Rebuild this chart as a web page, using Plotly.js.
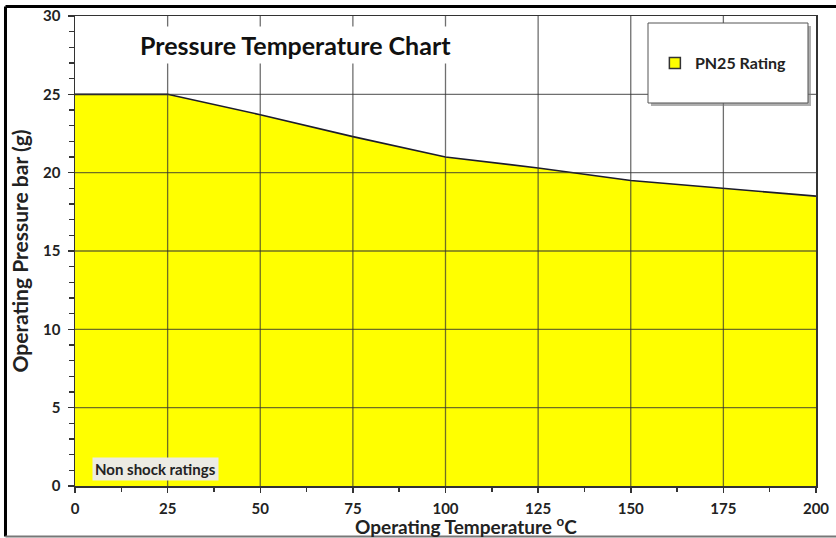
<!DOCTYPE html>
<html>
<head>
<meta charset="utf-8">
<script src="https://cdn.plot.ly/plotly-3.0.1.min.js"></script>
<style>html,body{margin:0;padding:0;background:#fff;}#chart{width:836px;height:538px;}</style>
</head>
<body>
<div id="chart"></div>
<script>
// Data
const temperature = [0, 25, 50, 75, 100, 125, 150, 175, 200];
const pressure = [25, 25, 23.7, 22.3, 21.0, 20.3, 19.5, 19.0, 18.5];
const seriesName = 'PN25 Rating';
const xTicks = [0, 25, 50, 75, 100, 125, 150, 175, 200];
const yTicks = [0, 5, 10, 15, 20, 25, 30];

const FONT = 'Lato, "Open Sans", sans-serif';
const gridColor = 'rgba(50,50,50,0.7)';

const shapes = [];
// gridlines drawn above the fill
xTicks.slice(1, -1).forEach(v => shapes.push({type:'line', xref:'x', yref:'paper', x0:v, x1:v, y0:0, y1:1, line:{color:gridColor, width:1.3}, layer:'above'}));
yTicks.slice(1, -1).forEach(v => shapes.push({type:'line', xref:'paper', yref:'y', x0:0, x1:1, y0:v, y1:v, line:{color:gridColor, width:1.3}, layer:'above'}));
// legend box with shadow
shapes.push({type:'rect', xref:'paper', yref:'paper', x0:0.7773, x1:0.9932, y0:0.8085, y1:0.9787, fillcolor:'rgba(120,120,120,0.6)', line:{width:0}, layer:'above'});
shapes.push({type:'rect', xref:'paper', yref:'paper', x0:0.7733, x1:0.9892, y0:0.8149, y1:0.9851, fillcolor:'#ffffff', line:{color:'#555', width:1}, layer:'above'});
// outer frame
shapes.push({type:'line', xref:'paper', yref:'paper', x0:-0.0938, x1:1.05, y0:1.0202, y1:1.0202, line:{color:'#000', width:3}, layer:'above'});
shapes.push({type:'line', xref:'paper', yref:'paper', x0:-0.0938, x1:-0.0938, y0:1.0202, y1:-0.1074, line:{color:'#000', width:3}, layer:'above'});
shapes.push({type:'line', xref:'paper', yref:'paper', x0:-0.0938, x1:1.05, y0:-0.1074, y1:-0.1074, line:{color:'#777', width:2}, layer:'above'});

const trace = {
  x: temperature, y: pressure, name: seriesName,
  type: 'scatter', mode: 'lines', fill: 'tozeroy',
  fillcolor: '#ffff00', line: {color: '#1c1c2c', width: 1.6},
  showlegend: false
};
// legend entry (square swatch) for the same series
const legendEntry = {
  x: [null], y: [null], name: seriesName, type: 'scatter', mode: 'markers',
  marker: {symbol: 'square', size: 11, color: '#ffff00', line: {color: '#333', width: 1.5}},
  showlegend: true
};

const layout = {
  width: 836, height: 538,
  margin: {l: 75, r: 20, t: 16, b: 52},
  paper_bgcolor: '#ffffff', plot_bgcolor: '#ffffff',
  font: {family: FONT, color: '#111'},
  showlegend: true,
  legend: {x: 0.875, y: 0.90, xanchor: 'center', yanchor: 'middle', bgcolor: 'rgba(0,0,0,0)', borderwidth: 0,
           font: {family: FONT, size: 16, weight: 'bold', color: '#222'}, itemwidth: 30},
  xaxis: {
    range: [0, 200], tickvals: xTicks, ticktext: xTicks.map(String),
    showgrid: false, zeroline: false,
    showline: true, linecolor: '#333', linewidth: 1.5, mirror: true,
    ticks: 'outside', ticklen: 5, tickcolor: '#333', tickwidth: 1.5,
    minor: {dtick: 12.5, ticks: 'outside', ticklen: 4, tickcolor: '#333', showgrid: false},
    tickfont: {family: FONT, size: 15, weight: 'bold', color: '#222'},
    ticklabelstandoff: 3
  },
  yaxis: {
    range: [0, 30], tickvals: yTicks, ticktext: yTicks.map(String),
    showgrid: false, zeroline: false,
    showline: true, linecolor: '#333', linewidth: 1.5, mirror: true,
    ticks: 'outside', ticklen: 6, tickcolor: '#333', tickwidth: 1.5,
    minor: {dtick: 1, ticks: 'outside', ticklen: 5, tickcolor: '#333', showgrid: false},
    tickfont: {family: FONT, size: 15, weight: 'bold', color: '#222'},
    ticklabelstandoff: 4,
    title: {text: 'Operating Pressure bar (g)', font: {family: FONT, size: 21, weight: 'bold', color: '#222'}, standoff: 8}
  },
  shapes: shapes,
  annotations: [
    {text: 'Pressure Temperature Chart', xref: 'paper', yref: 'paper', x: 0.297, y: 0.938,
     xanchor: 'center', yanchor: 'middle',
     showarrow: false, font: {family: FONT, size: 25, weight: 'bold', color: '#111'}, bgcolor: '#ffffff', borderpad: 3},
    {text: 'Non shock ratings', xref: 'paper', yref: 'paper', x: 0.109, y: 0.036,
     xanchor: 'center', yanchor: 'middle',
     showarrow: false, font: {family: FONT, size: 15, weight: 'bold', color: '#222'}, bgcolor: '#ecebe3', borderpad: 2},
    {text: 'Operating Temperature <sup>o</sup>C', xref: 'paper', yref: 'paper', x: 0.527, y: -0.0830,
     xanchor: 'center', yanchor: 'middle',
     showarrow: false, font: {family: FONT, size: 19, weight: 'bold', color: '#222'}}
  ]
};

Plotly.newPlot('chart', [trace, legendEntry], layout, {staticPlot: true, displayModeBar: false});
</script>
</body>
</html>
